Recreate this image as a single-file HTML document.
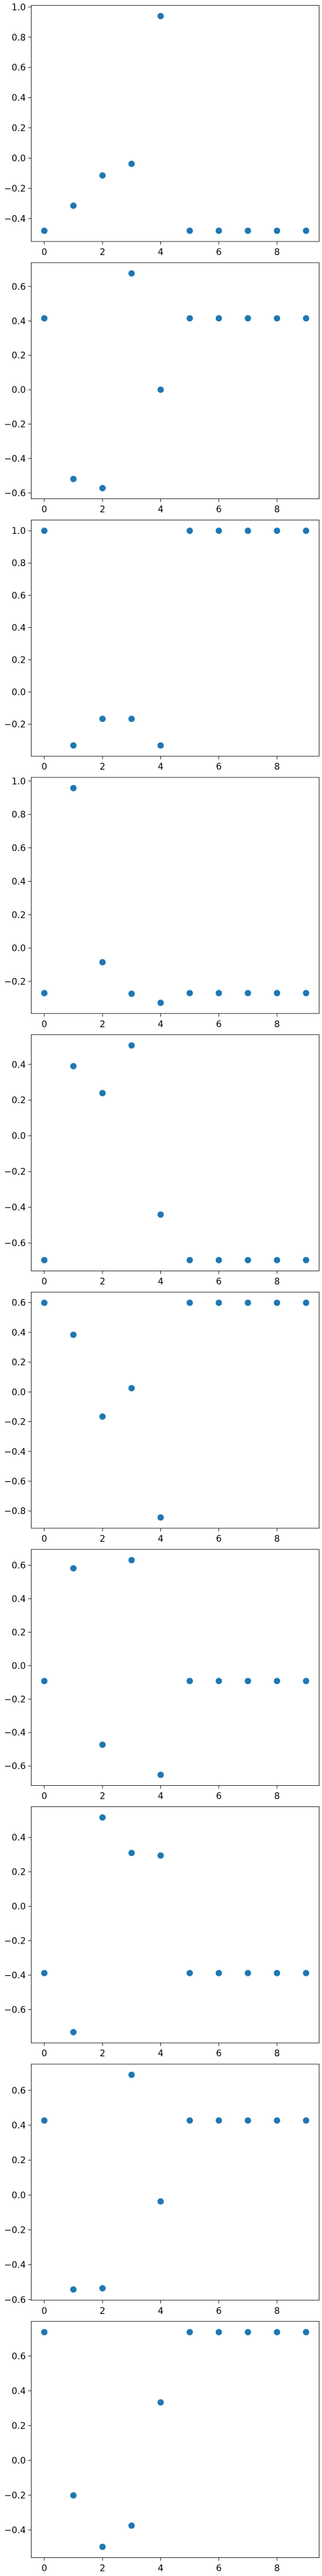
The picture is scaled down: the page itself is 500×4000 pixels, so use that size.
<!DOCTYPE html>
<html><head><meta charset="utf-8"><style>
html,body{margin:0;padding:0;background:#fff;}
svg{display:block;}
text{font-family:"DejaVu Sans","Liberation Sans",sans-serif;font-size:13.9px;fill:#000;}
</style></head><body>
<svg id="fig" width="500" height="4000" viewBox="0 0 500 4000" xmlns="http://www.w3.org/2000/svg"></svg>
<script>
const xValues = [0,1,2,3,4,5,6,7,8,9];
const xTickLabels = ["0","2","4","6","8"];
const series1 = [-0.481,-0.315,-0.115,-0.038,0.940,-0.481,-0.481,-0.481,-0.481,-0.481];
const series2 = [0.415,-0.519,-0.572,0.676,0.0,0.415,0.415,0.415,0.415,0.415];
const series3 = [1.0,-0.332,-0.167,-0.167,-0.332,1.0,1.0,1.0,1.0,1.0];
const series4 = [-0.270,0.958,-0.085,-0.274,-0.328,-0.270,-0.270,-0.270,-0.270,-0.270];
const series5 = [-0.696,0.390,0.239,0.506,-0.441,-0.696,-0.696,-0.696,-0.696,-0.696];
const series6 = [0.599,0.384,-0.166,0.025,-0.844,0.599,0.599,0.599,0.599,0.599];
const series7 = [-0.092,0.582,-0.473,0.631,-0.653,-0.092,-0.092,-0.092,-0.092,-0.092];
const series8 = [-0.388,-0.731,0.516,0.310,0.295,-0.388,-0.388,-0.388,-0.388,-0.388];
const series9 = [0.427,-0.542,-0.535,0.689,-0.037,0.427,0.427,0.427,0.427,0.427];
const series10 = [0.737,-0.202,-0.498,-0.376,0.333,0.737,0.737,0.737,0.737,0.737];
const allSeries = [series1,series2,series3,series4,series5,series6,series7,series8,series9,series10];

const NS = "http://www.w3.org/2000/svg";
const svg = document.getElementById('fig');
const L = 48.5, R = 495.6, H = 366.7;
function mk(tag, attrs, parent){
  const e = document.createElementNS(NS, tag);
  for (const k in attrs) e.setAttribute(k, attrs[k]);
  parent.appendChild(e); return e;
}
function fmt(v){
  const s = Math.abs(v).toFixed(1);
  return (v < -1e-9 ? "\u2212" : "") + s;
}
allSeries.forEach((data, i) => {
  const top = 8.3 + 399.6 * i, bot = top + H;
  const g = mk('g', {}, svg);
  
  
  const xmin = Math.min(...xValues), xmax = Math.max(...xValues);
  const xpad = (xmax - xmin) * 0.05;
  const x0 = xmin - xpad, x1 = xmax + xpad;
  const ymin = Math.min(...data), ymax = Math.max(...data);
  const ypad = (ymax - ymin) * 0.05;
  const y0 = ymin - ypad, y1 = ymax + ypad;
  const sx = v => L + (v - x0) / (x1 - x0) * (R - L);
  const sy = v => bot - (v - y0) / (y1 - y0) * (bot - top);
  // y ticks
  const step = 0.2;
  const yg = mk('g', {}, g);
  
  
  for (let t = Math.ceil(y0 / step - 1e-9); t * step <= y1 + 1e-9; t++) {
    const v = t * step, y = sy(v);
    mk('line', {x1: L - 4.9, x2: L, y1: y, y2: y, stroke: '#000', 'stroke-width': 0.8}, yg);
    const tx = mk('text', {x: L - 8.4, y: y + 5, 'text-anchor': 'end'}, yg);
    tx.textContent = fmt(v);
  }
  // x ticks
  const xg = mk('g', {}, g);
  
  
  xTickLabels.forEach(lab => {
    const x = sx(parseFloat(lab));
    mk('line', {x1: x, x2: x, y1: bot, y2: bot + 4.9, stroke: '#000', 'stroke-width': 0.8}, xg);
    const tx = mk('text', {x: x, y: bot + 21, 'text-anchor': 'middle'}, xg);
    tx.textContent = lab;
  });
  // points
  const pg = mk('g', {}, g);
  
  
  data.forEach((v, k) => {
    const c = mk('circle', {cx: sx(xValues[k]), cy: sy(v), r: 5.2, fill: '#1f77b4', stroke: '#fff', 'stroke-width': 0.5}, pg);
    
    
  });
  // frame
  const f = mk('rect', {x: L, y: top, width: R - L, height: H, fill: 'none', stroke: '#000', 'stroke-width': 0.8}, g);
  
  
});
</script>
</body></html>
